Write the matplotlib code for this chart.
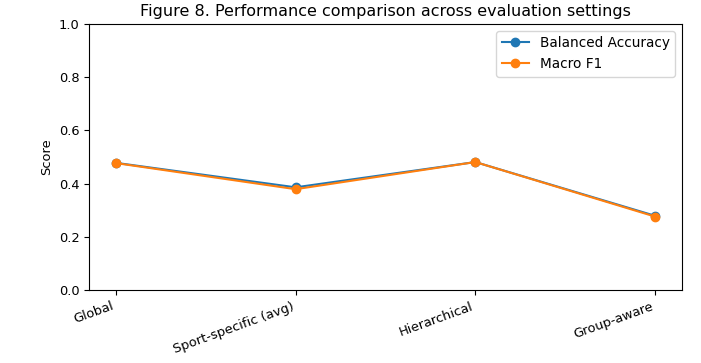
import matplotlib
matplotlib.use("Agg")
import matplotlib.pyplot as plt

settings = ["Global", "Sport-specific (avg)", "Hierarchical", "Group-aware"]
balanced_accuracy = [0.478, 0.386, 0.481, 0.279]
macro_f1 = [0.477, 0.379, 0.481, 0.276]

fig = plt.figure(figsize=(7.01, 3.63), dpi=100)
ax = fig.add_axes([89/701, 1-290/363, (682-89)/701, (290-24)/363])
x = range(len(settings))
ax.plot(x, balanced_accuracy, marker="o", label="Balanced Accuracy")
ax.plot(x, macro_f1, marker="o", label="Macro F1")
ax.set_ylim(0, 1.0)
ax.set_xticks(list(x))
ax.set_xticklabels(settings, rotation=20, ha="right", fontsize=9.4)
ax.tick_params(axis="y", labelsize=9.4)
ax.set_ylabel("Score", fontsize=9.4)
ax.set_title("Figure 8. Performance comparison across evaluation settings", fontsize=11.5)
ax.legend(fontsize=9.8)
fig.savefig("out.png", dpi=100)
